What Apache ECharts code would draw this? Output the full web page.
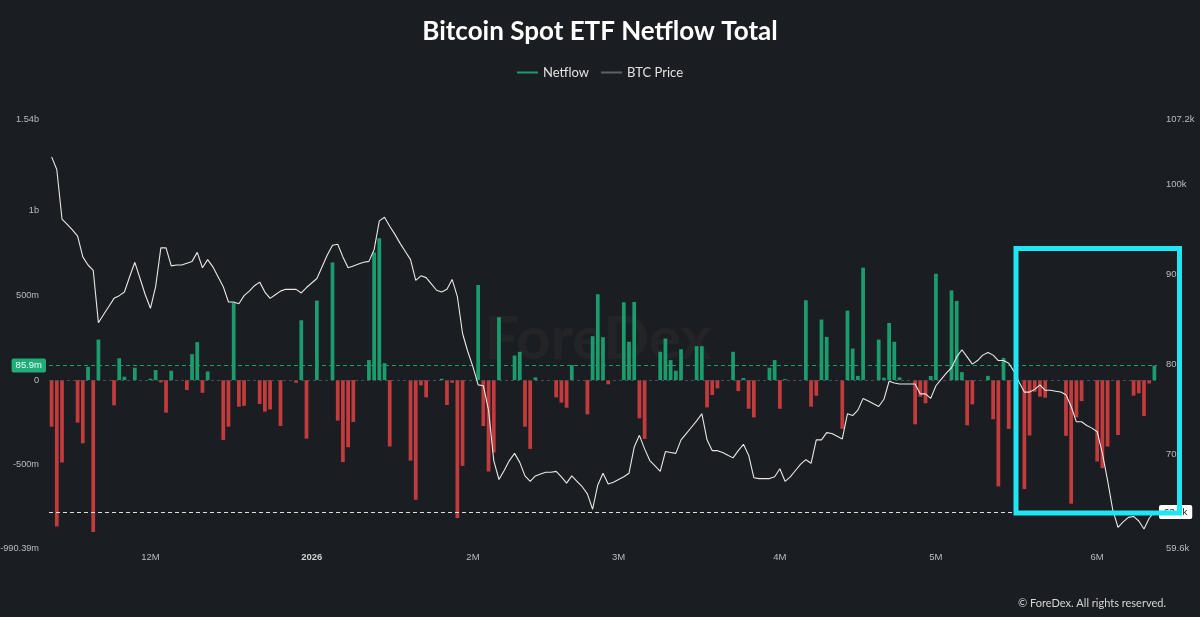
<!DOCTYPE html>
<html>
<head>
<meta charset="utf-8">
<script src="https://cdn.jsdelivr.net/npm/echarts@6/dist/echarts.min.js"></script>
<style>
html,body{margin:0;padding:0;background:#1a1d21;}
#chart{width:1200px;height:617px;}
</style>
</head>
<body>
<div id="chart"></div>
<script>
// ---- data (daily, starting 2025-11-12; null = no ETF trading) ----
const startDate = '2025-11-12';
const netflow = [
  -275, -863, -486, null, null,
  -251, -373, 78, -896, 239, null, null,
  -149, 129, 20, null, 73, null, null,
  8, 59, -14, -192, 55, null, null,
  -59, 153, 224, -75, 51, null, null,
  -353, -275, 457, -157, -152, null, null,
  -141, -186, -173, null, -271, null, null,
  -16, 353, -345, null, 469, null, null,
  694, -239, -484, -396, -247, null, null,
  118, 753, 837, 100, -392, null, null,
  null, -475, -706, -31, -102, null, null,
  8, -147, -16, -814, -506, null, null,
  561, -271, -539, -427, 371, null, null,
  145, 167, -275, -406, 16, null, null,
  null, -102, -133, -163, 88, null, null,
  -202, 259, 506, 253, -25, null, null,
  459, 226, 461, -226, -347, null, null,
  167, 245, 118, 55, 182, null, null,
  200, 200, -161, -88, -49, null, null,
  167, -65, 12, -169, -220, null, null,
  73, 118, -169, 6, null, null, null,
  471, -157, -92, 357, 255, null, null,
  -288, 410, 186, 25, 663, null, null,
  239, 14, 337, 226, 16, null, null,
  -261, -98, -137, 24, 627, null, null,
  529, 467, 47, -267, -143, null, null,
  25, -231, -627, 131, -288, null, null,
  -643, -327, -69, -98, -104, null, null,
  null, -329, -729, -220, -124, null, null,
  -480, -520, -392, null, -324, null, null,
  -92, -78, -212, -20, 85.9
]; // millions USD

const btcPrice = [
  103.0, 101.6, 96.1, 95.5, 94.9,
  94.2, 91.9, 91.0, 90.4, 84.6, 85.5, 86.4,
  87.3, 87.6, 88.0, 89.7, 91.3, 89.5, 87.7,
  86.2, 88.6, 92.9, 92.9, 90.9, 91.0, 91.0,
  91.2, 91.4, 92.4, 90.7, 91.6, 90.8, 89.7,
  88.6, 86.9, 86.9, 86.7, 87.6, 88.1, 88.7,
  89.1, 88.0, 87.3, 87.7, 88.1, 88.3, 88.3,
  88.3, 87.9, 88.5, 89.0, 89.5, 90.8, 92.1,
  93.2, 93.3, 91.9, 90.7, 90.9, 91.1, 91.3,
  91.4, 92.7, 95.9, 96.3, 95.3, 94.4, 93.4,
  92.5, 91.6, 89.3, 89.8, 89.6, 88.9, 88.2,
  88.0, 88.3, 89.4, 87.5, 83.4, 81.4, 79.7,
  77.7, 77.6, 74.9, 69.3, 67.2, 68.2, 69.3,
  70.1, 69.1, 67.6, 67.0, 67.6, 67.8, 68.0,
  68.0, 68.1, 67.5, 66.8, 67.6, 67.0, 66.4,
  65.6, 63.9, 66.6, 67.9, 66.7, 66.9, 67.2,
  67.5, 67.9, 70.8, 72.1, 70.6, 69.3, 68.7,
  68.1, 70.3, 70.2, 70.1, 71.6, 72.3, 73.0,
  73.7, 74.5, 71.6, 70.4, 70.4, 70.2, 69.9,
  69.6, 70.4, 71.1, 69.9, 67.4, 67.3, 67.3,
  67.3, 67.5, 68.4, 67.0, 67.5, 68.2, 68.9,
  69.4, 69.0, 71.6, 71.6, 72.4, 72.3, 72.0,
  71.7, 74.5, 74.3, 74.9, 76.2, 75.9, 75.6,
  75.3, 76.1, 78.1, 77.9, 77.8, 77.8, 77.8,
  77.8, 76.7, 76.7, 76.2, 77.6, 78.3, 79.0,
  79.6, 80.8, 81.6, 80.8, 80.0, 80.4, 81.0,
  81.3, 81.0, 80.4, 80.4, 80.1, 79.2, 78.0,
  76.9, 76.9, 77.2, 77.7, 77.1, 77.1, 77.0,
  76.9, 76.6, 75.3, 73.6, 73.6, 73.2, 72.9,
  72.5, 70.1, 67.1, 63.8, 61.9, 62.5, 63.0,
  63.1, 62.6, 61.7, 62.9, 63.6
]; // thousands USD

const xTickDates  = ['2025-12-01','2026-01-01','2026-02-01','2026-03-01','2026-04-01','2026-05-01','2026-06-01'];
const xTickLabels = ['12M','2026','2M','3M','4M','5M','6M'];
const leftTickValues  = [-990.39, -500, 0, 500, 1000, 1540];
const leftTickLabels  = ['-990.39m','-500m','0','500m','1b','1.54b'];
const rightTickValues = [59.6, 70, 80, 90, 100, 107.2];
const rightTickLabels = ['59.6k','70k','80k','90k','100k','107.2k'];

// ---- build category dates ----
function pad(n){return n<10?'0'+n:''+n;}
const dates = [];
(function(){
  const p = startDate.split('-').map(Number);
  const d0 = new Date(Date.UTC(p[0], p[1]-1, p[2]));
  for (let i = 0; i < netflow.length; i++) {
    const d = new Date(d0.getTime() + i*86400000);
    dates.push(d.getUTCFullYear()+'-'+pad(d.getUTCMonth()+1)+'-'+pad(d.getUTCDate()));
  }
})();

const lastFlow = netflow[netflow.length-1];
const lastPrice = btcPrice[btcPrice.length-1];
const GREEN = '#1a9c6d', RED = '#c23b3d';
const FONT = 'Lato, "Noto Sans", sans-serif';
const AXFONT = '"Liberation Sans", Arial, sans-serif';

const chart = echarts.init(document.getElementById('chart'), null, {renderer:'canvas'});
chart.setOption({
  backgroundColor: '#1a1d21',
  animation: false,
  title: {
    text: 'Bitcoin Spot ETF Netflow Total',
    left: 'center', top: 14,
    textStyle: {color:'#ffffff', fontSize:26, fontWeight:'bold', fontFamily:FONT}
  },
  legend: {
    top: 61, left: 'center',
    icon: 'rect', itemWidth: 21, itemHeight: 2, itemGap: 12,
    textStyle: {color:'#e2e2e2', fontSize:13, fontFamily:FONT},
    data: [
      {name:'Netflow', itemStyle:{color:GREEN}},
      {name:'BTC Price', itemStyle:{color:'#5e6267'}}
    ]
  },
  grid: {left: 49, right: 43, top: 119, bottom: 69, containLabel: false, outerBoundsMode: 'none'},
  xAxis: {
    type: 'category',
    data: dates,
    boundaryGap: true,
    axisLine: {show:false},
    axisTick: {show:false},
    splitLine: {show:false},
    axisLabel: {
      interval: function(i, v){ return xTickDates.indexOf(v) >= 0; },
      formatter: function(v){
        const k = xTickDates.indexOf(v);
        if (k < 0) return '';
        const t = xTickLabels[k];
        return /^\d{4}$/.test(t) ? '{b|'+t+'}' : t;
      },
      color: '#b9bcc0', fontSize: 9.5, fontFamily: AXFONT, margin: 4,
      rich: {b: {fontWeight:'bold', color:'#d0d3d6', fontSize:9.5, fontFamily:AXFONT}}
    }
  },
  yAxis: [
    {
      type: 'value', min: -990.39, max: 1540, position: 'left',
      splitLine: {show:false}, axisLine:{show:false}, axisTick:{show:false},
      axisLabel: {
        customValues: leftTickValues,
        formatter: function(v){
          const k = leftTickValues.indexOf(v);
          return k >= 0 ? leftTickLabels[k] : '';
        },
        color:'#b9bcc0', fontSize:9.2, fontFamily:AXFONT, margin: 10
      }
    },
    {
      type: 'value', min: 59.6, max: 107.2, position: 'right',
      splitLine: {show:false}, axisLine:{show:false}, axisTick:{show:false},
      axisLabel: {
        customValues: rightTickValues,
        formatter: function(v){
          const k = rightTickValues.indexOf(v);
          return k >= 0 ? rightTickLabels[k] : '';
        },
        color:'#b9bcc0', fontSize:9.5, fontFamily:AXFONT, margin: 9
      }
    }
  ],
  series: [
    {
      name: 'Netflow', type: 'bar', yAxisIndex: 0,
      data: netflow,
      barWidth: '72%',
      itemStyle: {
        color: function(p){ return p.value >= 0 ? GREEN : RED; }
      },
      markLine: {
        silent: true, symbol: ['none','none'],
        data: [
          {yAxis: 0, lineStyle:{color:'#4a4e54', type:[3,3], width:1}, label:{show:false}},
          {
            yAxis: lastFlow,
            lineStyle:{color:GREEN, type:[4,3], width:1},
            label:{
              show:true, position:'start', distance:3,
              formatter: lastFlow + 'm',
              backgroundColor: '#1fae78', color:'#e9fff5',
              fontSize: 9.5, fontFamily: AXFONT,
              padding: [2,4], borderRadius: 2
            }
          }
        ]
      }
    },
    {
      name: 'BTC Price', type: 'line', yAxisIndex: 1,
      data: btcPrice,
      symbol: 'none', smooth: false,
      lineStyle: {color:'#e8e8e8', width:1.1},
      itemStyle: {color:'#5e6267'},
      z: 5,
      markLine: {
        silent: true, symbol: ['none','none'],
        data: [
          {
            yAxis: lastPrice,
            lineStyle:{color:'#e0e0e0', type:[4,3], width:1},
            label:{
              show:true, position:'end', distance:2,
              formatter: lastPrice + 'k',
              backgroundColor:'#ffffff', color:'#222',
              fontSize:9.5, fontFamily:AXFONT,
              padding:[2,5], borderRadius:2
            }
          }
        ]
      }
    }
  ],
  graphic: [
    {
      type: 'text', left: 485, top: 310, z: 0, silent: true,
      style: {text:'ForeDex', fill:'rgba(255,255,255,0.035)', font:'bold 60px ' + FONT}
    },
    {
      type: 'rect', z: 100, silent: true,
      shape: {x:1016, y:248.5, width:163.5, height:264.5},
      style: {fill:'none', stroke:'#1fe6f2', lineWidth:5}
    },
    {
      type: 'text', right: 34, top: 598, z: 100, silent: true,
      style: {text:'\u00A9 ForeDex. All rights reserved.', fill:'#d4d6d9', font:'11px ' + FONT}
    }
  ]
});
</script>
</body>
</html>
